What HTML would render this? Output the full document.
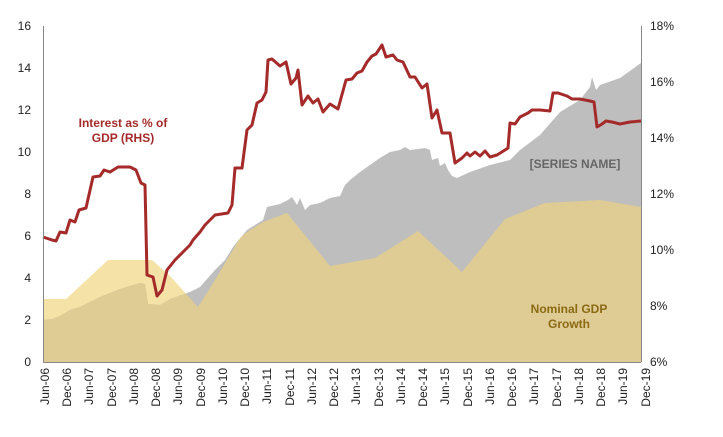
<!DOCTYPE html>
<html><head><meta charset="utf-8"><style>
html,body{margin:0;padding:0;background:#fff;}
svg{display:block;font-family:"Liberation Sans",Arial,sans-serif;}
</style></head><body>
<svg width="723" height="437" viewBox="0 0 723 437" xmlns="http://www.w3.org/2000/svg">
<defs>
<clipPath id="gc"><path id="greyP" d="M43,362 L43,320 52,319 60,316 70,310 80,307 100,297 120,289 140,283 145,284 148,304 160,305 170,299 190,292 200,287 215,270 225,260 233,247 247,230 263,220 267,207 280,204 288,200 292,197 297,205 300,198 305,210 310,205 320,203 330,198 340,196 345,185 350,180 360,172 370,165 380,158 390,152 400,150 405,147 410,150 418,149 425,148 430,150 432,160 438,158 440,166 445,163 448,170 452,176 457,178 470,172 490,165 510,160 520,150 540,135 560,112 580,100 590,87 592,77 596,90 600,85 620,78 641,63 L641,362 Z"/></clipPath>
</defs>
<path d="M43,362 L43,299 66,299 108,260 152,260 170,276 198,307 215,280 240,238 247,232 263,222 287,213 330,266 375,258 418,231 462,272 505,219 545,203 600,200 641,207 L641,362 Z" fill="#f4e2a6"/>
<path d="M43,362 L43,320 52,319 60,316 70,310 80,307 100,297 120,289 140,283 145,284 148,304 160,305 170,299 190,292 200,287 215,270 225,260 233,247 247,230 263,220 267,207 280,204 288,200 292,197 297,205 300,198 305,210 310,205 320,203 330,198 340,196 345,185 350,180 360,172 370,165 380,158 390,152 400,150 405,147 410,150 418,149 425,148 430,150 432,160 438,158 440,166 445,163 448,170 452,176 457,178 470,172 490,165 510,160 520,150 540,135 560,112 580,100 590,87 592,77 596,90 600,85 620,78 641,63 L641,362 Z" fill="#bebebe"/>
<path clip-path="url(#gc)" d="M43,362 L43,299 66,299 108,260 152,260 170,276 198,307 215,280 240,238 247,232 263,222 287,213 330,266 375,258 418,231 462,272 505,219 545,203 600,200 641,207 L641,362 Z" fill="#dfcb94"/>
<polyline fill="none" stroke="#a52a2a" stroke-width="3" stroke-linejoin="round" points="43,237 52,240 56,241 60,232 66,233 70,220 75,222 79,210 86,208 93,177 100,176 104,170 110,172 118,167 130,167 136,170 141,183 145,185 147,275 153,277 157,296 162,290 167,270 175,260 183,252 190,245 193,240 200,232 205,225 215,215 228,213 232,205 235,168 242,168 247,130 252,125 257,103 262,100 266,92 268,60 272,59 280,66 286,62 291,84 296,78 298,70 302,105 308,96 313,103 318,99 323,112 330,104 338,109 346,80 352,79 357,73 362,71 367,62 372,56 376,54 382,45 386,57 393,55 397,60 403,62 410,77 415,77 422,88 427,84 432,118 437,110 442,133 450,133 455,163 462,158 467,153 470,156 475,152 480,156 485,151 490,157 497,155 505,150 508,148 510,123 515,124 520,117 528,113 532,110 540,110 550,111 553,93 558,93 567,96 572,99 580,99 590,101 594,102 597,127 602,124 606,121 612,122 620,124 625,123 630,122 641,121"/>
<g stroke="#888" stroke-width="1" fill="none">
<line x1="43.5" y1="26" x2="43.5" y2="362"/>
<line x1="641.5" y1="26" x2="641.5" y2="362"/>
<line x1="43" y1="362.5" x2="641" y2="362.5"/>
</g>
<g font-size="12" fill="#222" text-anchor="end">
<text x="31" y="30">16</text><text x="31" y="72">14</text><text x="31" y="114">12</text><text x="31" y="156">10</text><text x="31" y="198">8</text><text x="31" y="240">6</text><text x="31" y="282">4</text><text x="31" y="324">2</text><text x="31" y="366">0</text>
</g>
<g font-size="12" fill="#222">
<text x="650" y="30">18%</text><text x="650" y="86">16%</text><text x="650" y="142">14%</text><text x="650" y="198">12%</text><text x="650" y="254">10%</text><text x="650" y="310">8%</text><text x="650" y="366">6%</text>
</g>
<g font-size="12" fill="#222" text-anchor="end">
<text transform="translate(49,368) rotate(-90)">Jun-06</text>
<text transform="translate(71,368) rotate(-90)">Dec-06</text>
<text transform="translate(93,368) rotate(-90)">Jun-07</text>
<text transform="translate(116,368) rotate(-90)">Dec-07</text>
<text transform="translate(138,368) rotate(-90)">Jun-08</text>
<text transform="translate(160,368) rotate(-90)">Dec-08</text>
<text transform="translate(182,368) rotate(-90)">Jun-09</text>
<text transform="translate(205,368) rotate(-90)">Dec-09</text>
<text transform="translate(227,368) rotate(-90)">Jun-10</text>
<text transform="translate(249,368) rotate(-90)">Dec-10</text>
<text transform="translate(271,368) rotate(-90)">Jun-11</text>
<text transform="translate(294,368) rotate(-90)">Dec-11</text>
<text transform="translate(316,368) rotate(-90)">Jun-12</text>
<text transform="translate(338,368) rotate(-90)">Dec-12</text>
<text transform="translate(360,368) rotate(-90)">Jun-13</text>
<text transform="translate(383,368) rotate(-90)">Dec-13</text>
<text transform="translate(405,368) rotate(-90)">Jun-14</text>
<text transform="translate(427,368) rotate(-90)">Dec-14</text>
<text transform="translate(449,368) rotate(-90)">Jun-15</text>
<text transform="translate(472,368) rotate(-90)">Dec-15</text>
<text transform="translate(494,368) rotate(-90)">Jun-16</text>
<text transform="translate(516,368) rotate(-90)">Dec-16</text>
<text transform="translate(538,368) rotate(-90)">Jun-17</text>
<text transform="translate(561,368) rotate(-90)">Dec-17</text>
<text transform="translate(583,368) rotate(-90)">Jun-18</text>
<text transform="translate(605,368) rotate(-90)">Dec-18</text>
<text transform="translate(627,368) rotate(-90)">Jun-19</text>
<text transform="translate(650,368) rotate(-90)">Dec-19</text>
</g>
<g font-size="12" font-weight="bold" text-anchor="middle">
<text x="123" y="127" fill="#a52a2a">Interest as % of</text>
<text x="123" y="142" fill="#a52a2a">GDP (RHS)</text>
<text x="575" y="168" fill="#666">[SERIES  NAME]</text>
<text x="569" y="313" fill="#8b6a14">Nominal GDP</text>
<text x="569" y="328" fill="#8b6a14">Growth</text>
</g>
</svg>
</body></html>
